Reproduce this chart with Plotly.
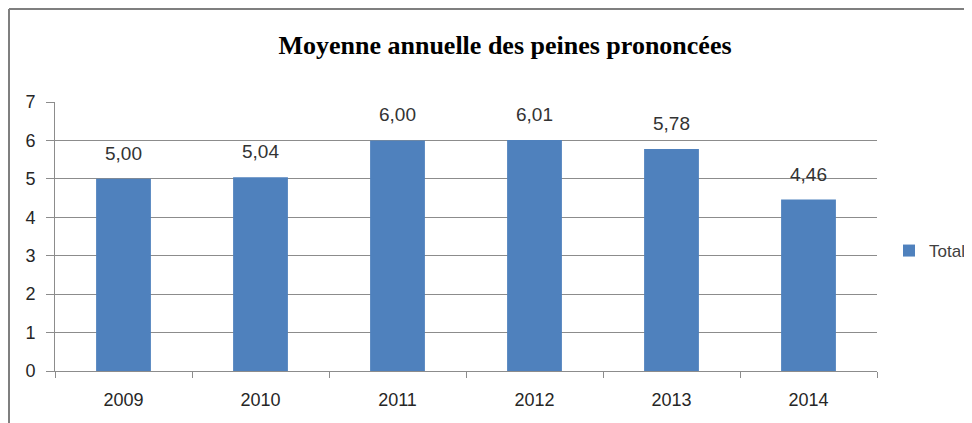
import plotly.graph_objects as go

years = ["2009", "2010", "2011", "2012", "2013", "2014"]
values = [5.00, 5.04, 6.00, 6.01, 5.78, 4.46]
y_ticks = [0, 1, 2, 3, 4, 5, 6, 7]

# page body has an 8px default margin; size figure to fit the window
W, H = 964, 415
L, T = 47, 94
pw, ph = 822, 269
R, B = W - L - pw, H - T - ph

fig = go.Figure()
fig.add_trace(go.Bar(
    x=years, y=values, name="Total",
    marker=dict(color="#4F81BD", line=dict(width=0)),
))

# value labels (category index positions on the category axis)
for i, v in enumerate(values):
    fig.add_annotation(x=i, y=v, text=f"{v:.2f}".replace(".", ","),
                       showarrow=False, yanchor="bottom", yshift=13,
                       font=dict(family="Liberation Sans", size=19, color="#333333"))

fig.update_layout(
    width=W, height=H,
    margin=dict(l=L, r=R, t=T, b=B, autoexpand=False),
    paper_bgcolor="white", plot_bgcolor="white",
    bargap=0.6,
    showlegend=True,
    title=dict(text="<b>Moyenne annuelle des peines prononcées</b>",
               x=497 / W, xanchor="center", y=1 - 37 / H, yanchor="middle",
               font=dict(family="Liberation Serif", size=26, color="black")),
    legend=dict(x=(881 - L) / pw, xanchor="left", y=(363 - 243) / ph, yanchor="middle",
                font=dict(family="Liberation Sans", size=17, color="#404040"),
                itemwidth=30, bgcolor="rgba(0,0,0,0)"),
    font=dict(family="Liberation Sans", size=16, color="#404040"),
)
fig.update_yaxes(range=[0, 7], tickvals=y_ticks, showgrid=True, gridcolor="#8c8c8c",
                 gridwidth=1, showline=True, linecolor="#8c8c8c", linewidth=1,
                 ticks="outside", ticklen=8, tickcolor="#8c8c8c", zeroline=False,
                 tickfont=dict(size=18, color="#262626"), ticklabelstandoff=7)
fig.update_xaxes(type="category", categoryorder="array", categoryarray=years,
                 range=[-0.5, len(years) - 0.5],
                 showline=True, linecolor="#8c8c8c", linewidth=1,
                 ticks="outside", tickson="boundaries", ticklen=6, tickcolor="#8c8c8c",
                 tickangle=0, tickfont=dict(size=18, color="#262626"), ticklabelstandoff=12)

# outer chart frame (top and left borders)
fx0 = (1 - L) / pw
fy_top = (ph + T - 1) / ph
fy_bot = -(B + 5) / ph
fig.add_shape(type="line", xref="paper", yref="paper",
              x0=fx0, x1=(W + 5 - L) / pw, y0=fy_top, y1=fy_top,
              line=dict(color="#7f7f7f", width=2))
fig.add_shape(type="line", xref="paper", yref="paper",
              x0=fx0, x1=fx0, y0=fy_bot, y1=fy_top,
              line=dict(color="#7f7f7f", width=2))

fig.write_html("out.html")
